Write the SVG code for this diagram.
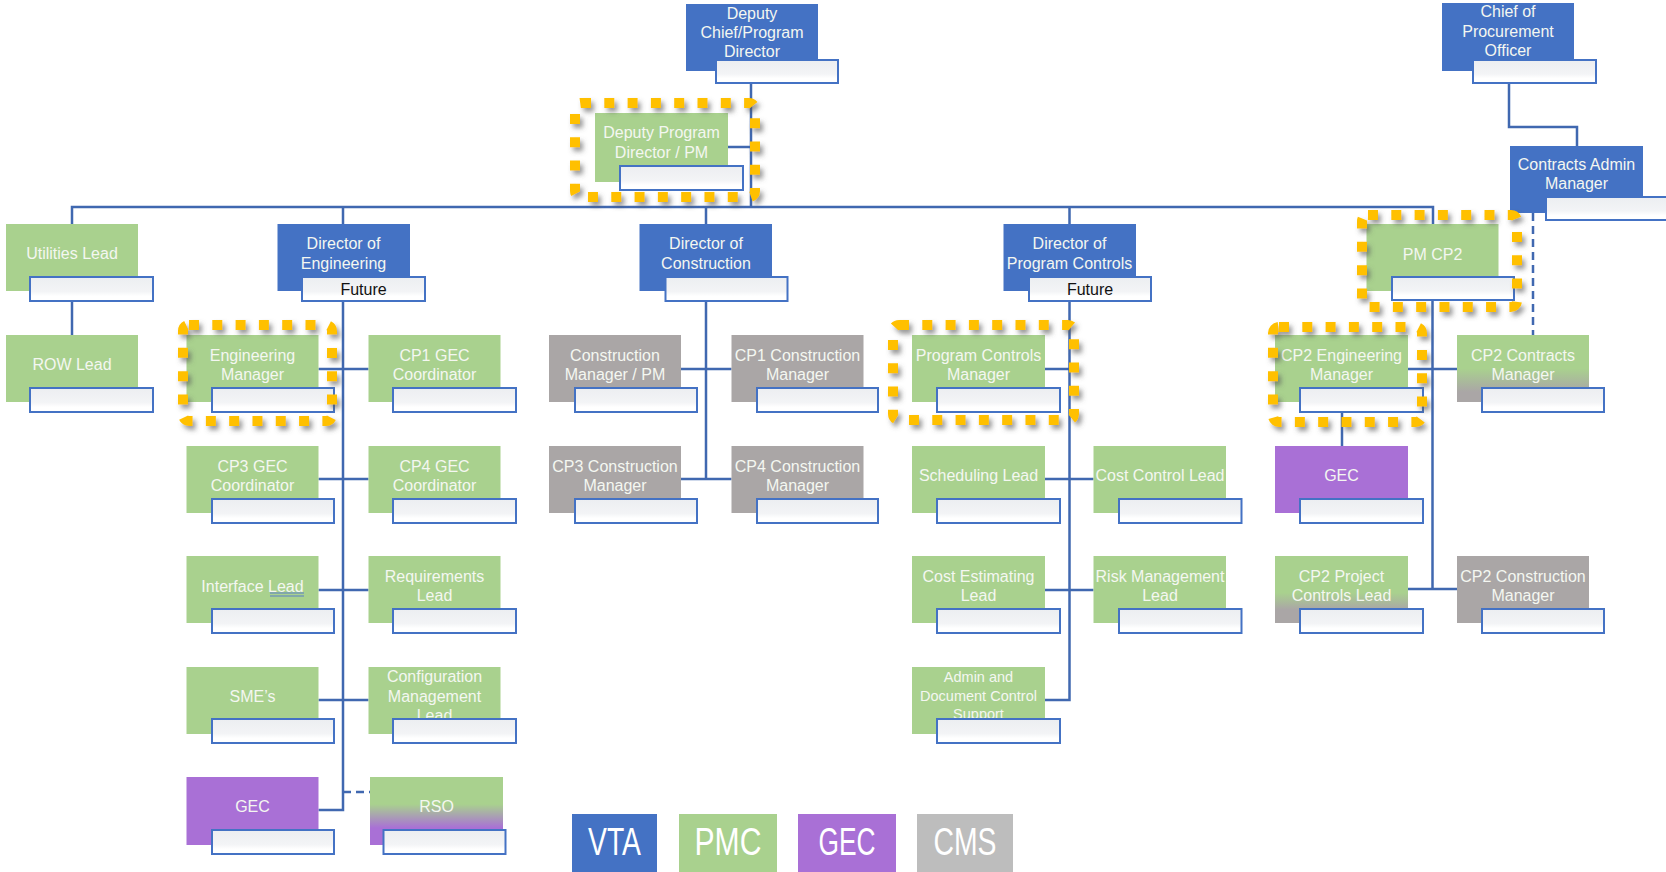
<svg xmlns="http://www.w3.org/2000/svg" width="1666" height="872" viewBox="0 0 1666 872">
<style>
.v{fill:#4472C4}
.p{fill:#A9D18E}
.g{fill:#AAA6A6}
.u{fill:#A970D6}
.s{fill:url(#sb);stroke:#4472C4;stroke-width:2}
.t{font-family:"Liberation Sans",Arial,sans-serif;font-size:16px;fill:#F4F7F1;text-anchor:middle}
.sm{font-size:14.5px}
.f{fill:#111111}
.ln{stroke:#4068B0;stroke-width:2.5;fill:none}
.dl{stroke:#4068B0;stroke-width:2.5;fill:none;stroke-dasharray:8 5}
.hl{fill:none;stroke:#FFC000;stroke-width:10;stroke-dasharray:10 13.3;filter:url(#sh)}
.lg{font-family:"Liberation Sans",Arial,sans-serif;font-size:38px;fill:#FFFFFF;text-anchor:middle}
</style>
<defs>
<linearGradient id="sb" x1="0" y1="0" x2="0" y2="1">
<stop offset="0" stop-color="#ECEEF1"/><stop offset="0.6" stop-color="#F3F4F6"/><stop offset="0.8" stop-color="#FFFFFF"/>
</linearGradient>
<linearGradient id="pg" x1="0" y1="0" x2="0" y2="1">
<stop offset="0" stop-color="#A9D18E"/><stop offset="0.5" stop-color="#A9D18E"/><stop offset="0.85" stop-color="#AAA6A6"/>
</linearGradient>
<linearGradient id="pg2" x1="0" y1="0" x2="0" y2="1">
<stop offset="0" stop-color="#A9D18E"/><stop offset="0.55" stop-color="#A9D18E"/><stop offset="0.8" stop-color="#AAA6A6"/>
</linearGradient>
<linearGradient id="pu" x1="0" y1="0" x2="0" y2="1">
<stop offset="0" stop-color="#A9D18E"/><stop offset="0.4" stop-color="#A9D18E"/><stop offset="0.75" stop-color="#A970D6"/>
</linearGradient>
<filter id="sh" x="-10%" y="-10%" width="125%" height="130%">
<feDropShadow dx="3" dy="4" stdDeviation="2.5" flood-color="#555555" flood-opacity="0.6"/>
</filter>
</defs>
<rect width="1666" height="872" fill="#FFFFFF"/>

<g id="connectors">
<path class="ln" d="M751 83V207M728 147H751"/>
<path class="ln" d="M72 224V207H1433V224"/>
<path class="ln" d="M343 207V224M706 207V224M1069.5 207V224"/>
<path class="ln" d="M1509 83V127H1577V146"/>
<path class="dl" d="M1533 213V335"/>
<path class="ln" d="M72 301V335"/>
<path class="ln" d="M343 301V810H318.5M318.5 369H368.5M318.5 479H368.5M318.5 590H368.5M318.5 700H368.5"/>
<path class="dl" d="M343 792H370"/>
<path class="ln" d="M706 301V479M681 369H731.5M681 479H731.5"/>
<path class="ln" d="M1069.5 301V700H1044M1044 369H1069.5M1044 479H1093.5M1044 590H1093.5"/>
<path class="ln" d="M1432.5 300V589M1407 369H1457M1407 589H1457"/>
<path class="ln" d="M1342 412V446"/>
</g>

<g id="deputy-chief">
<rect class="v" x="686" y="4" width="132" height="67"/>
<text class="t" x="752" y="18.5">Deputy</text><text class="t" x="752" y="37.5">Chief/Program</text><text class="t" x="752" y="56.5">Director</text>
<rect class="s" x="716" y="60" width="122" height="23"/>
</g>
<g id="chief-procurement">
<rect class="v" x="1442" y="3" width="132" height="68"/>
<text class="t" x="1508" y="17">Chief of</text><text class="t" x="1508" y="36.5">Procurement</text><text class="t" x="1508" y="55.5">Officer</text>
<rect class="s" x="1473" y="60" width="123" height="23"/>
</g>
<g id="contracts-admin">
<rect class="v" x="1510" y="146" width="133" height="67"/>
<text class="t" x="1576.5" y="170">Contracts Admin</text><text class="t" x="1576.5" y="189">Manager</text>
<rect class="s" x="1546" y="197" width="122" height="23"/>
</g>
<g id="deputy-pd">
<rect class="p" x="595" y="113" width="133" height="69"/>
<text class="t" x="661.5" y="138">Deputy Program</text><text class="t" x="661.5" y="158">Director / PM</text>
<rect class="s" x="620" y="166" width="123" height="24"/>
</g>

<g id="utilities-lead">
<rect class="p" x="6" y="224" width="132" height="67"/>
<text class="t" x="72" y="259">Utilities Lead</text>
<rect class="s" x="30" y="277" width="123" height="24"/>
</g>
<g id="dir-eng">
<rect class="v" x="277.5" y="224" width="132.5" height="67"/>
<text class="t" x="343.5" y="249">Director of</text><text class="t" x="343.5" y="268.5">Engineering</text>
<rect class="s" x="302" y="277" width="123" height="24"/>
<text class="t f" x="363.5" y="295">Future</text>
</g>
<g id="dir-con">
<rect class="v" x="639.5" y="224" width="132.5" height="67"/>
<text class="t" x="706" y="249">Director of</text><text class="t" x="706" y="268.5">Construction</text>
<rect class="s" x="665.5" y="277" width="122" height="24"/>
</g>
<g id="dir-pc">
<rect class="v" x="1003.5" y="224" width="132.5" height="67"/>
<text class="t" x="1069.5" y="249">Director of</text><text class="t" x="1069.5" y="268.5">Program Controls</text>
<rect class="s" x="1029" y="277" width="122" height="24"/>
<text class="t f" x="1090" y="295">Future</text>
</g>
<g id="pm-cp2">
<rect class="p" x="1366.5" y="224" width="132" height="67"/>
<text class="t" x="1432.5" y="260">PM CP2</text>
<rect class="s" x="1392" y="277" width="122" height="23"/>
</g>

<g id="row-lead">
<rect class="p" x="6" y="335" width="132" height="67"/>
<text class="t" x="72" y="370">ROW Lead</text>
<rect class="s" x="30" y="388" width="123" height="24"/>
</g>
<g id="eng-manager">
<rect class="p" x="186.5" y="335" width="132" height="67"/>
<text class="t" x="252.5" y="360.5">Engineering</text><text class="t" x="252.5" y="380">Manager</text>
<rect class="s" x="212" y="388" width="122" height="24"/>
</g>
<g id="cp1-gec">
<rect class="p" x="368.5" y="335" width="132" height="67"/>
<text class="t" x="434.5" y="360.5">CP1 GEC</text><text class="t" x="434.5" y="380">Coordinator</text>
<rect class="s" x="393" y="388" width="123" height="24"/>
</g>
<g id="con-manager">
<rect class="g" x="549" y="335" width="132" height="67"/>
<text class="t" x="615" y="360.5">Construction</text><text class="t" x="615" y="380">Manager / PM</text>
<rect class="s" x="575" y="388" width="122" height="24"/>
</g>
<g id="cp1-con">
<rect class="g" x="731.5" y="335" width="132" height="67"/>
<text class="t" x="797.5" y="360.5">CP1 Construction</text><text class="t" x="797.5" y="380">Manager</text>
<rect class="s" x="757" y="388" width="121" height="24"/>
</g>
<g id="pc-manager">
<rect class="p" x="912" y="335" width="133" height="67"/>
<text class="t" x="978.5" y="360.5">Program Controls</text><text class="t" x="978.5" y="380">Manager</text>
<rect class="s" x="937" y="388" width="123" height="24"/>
</g>
<g id="cp2-eng">
<rect class="p" x="1275" y="335" width="133" height="67"/>
<text class="t" x="1341.5" y="360.5">CP2 Engineering</text><text class="t" x="1341.5" y="380">Manager</text>
<rect class="s" x="1300" y="388" width="123" height="24"/>
</g>
<g id="cp2-contracts">
<rect x="1457" y="335" width="132" height="67" fill="url(#pg)"/>
<text class="t" x="1523" y="360.5">CP2 Contracts</text><text class="t" x="1523" y="380">Manager</text>
<rect class="s" x="1482" y="388" width="122" height="24"/>
</g>

<g id="cp3-gec">
<rect class="p" x="186.5" y="446" width="132" height="67"/>
<text class="t" x="252.5" y="471.5">CP3 GEC</text><text class="t" x="252.5" y="491">Coordinator</text>
<rect class="s" x="212" y="499" width="122" height="24"/>
</g>
<g id="cp4-gec">
<rect class="p" x="368.5" y="446" width="132" height="67"/>
<text class="t" x="434.5" y="471.5">CP4 GEC</text><text class="t" x="434.5" y="491">Coordinator</text>
<rect class="s" x="393" y="499" width="123" height="24"/>
</g>
<g id="cp3-con">
<rect class="g" x="549" y="446" width="132" height="67"/>
<text class="t" x="615" y="471.5">CP3 Construction</text><text class="t" x="615" y="491">Manager</text>
<rect class="s" x="575" y="499" width="122" height="24"/>
</g>
<g id="cp4-con">
<rect class="g" x="731.5" y="446" width="132" height="67"/>
<text class="t" x="797.5" y="471.5">CP4 Construction</text><text class="t" x="797.5" y="491">Manager</text>
<rect class="s" x="757" y="499" width="121" height="24"/>
</g>
<g id="scheduling">
<rect class="p" x="912" y="446" width="133" height="67"/>
<text class="t" x="978.5" y="481">Scheduling Lead</text>
<rect class="s" x="937" y="499" width="123" height="24"/>
</g>
<g id="cost-control">
<rect class="p" x="1093.5" y="446" width="132.5" height="67"/>
<text class="t" x="1160" y="481">Cost Control Lead</text>
<rect class="s" x="1119" y="499" width="122.5" height="24"/>
</g>
<g id="cp2-gec">
<rect class="u" x="1275" y="446" width="133" height="67"/>
<text class="t" x="1341.5" y="481">GEC</text>
<rect class="s" x="1300" y="499" width="123" height="24"/>
</g>

<g id="interface-lead">
<rect class="p" x="186.5" y="556" width="132" height="67"/>
<text class="t" x="252.5" y="591.5">Interface Lead</text>
<path d="M270 593H304M270 596H304" stroke="#5B7FC7" stroke-width="1.2" fill="none"/>
<rect class="s" x="212" y="609" width="122" height="24"/>
</g>
<g id="requirements-lead">
<rect class="p" x="368.5" y="556" width="132" height="67"/>
<text class="t" x="434.5" y="581.5">Requirements</text><text class="t" x="434.5" y="601">Lead</text>
<rect class="s" x="393" y="609" width="123" height="24"/>
</g>
<g id="cost-estimating">
<rect class="p" x="912" y="556" width="133" height="67"/>
<text class="t" x="978.5" y="581.5">Cost Estimating</text><text class="t" x="978.5" y="601">Lead</text>
<rect class="s" x="937" y="609" width="123" height="24"/>
</g>
<g id="risk-management">
<rect class="p" x="1093.5" y="556" width="132.5" height="67"/>
<text class="t" x="1160" y="581.5">Risk Management</text><text class="t" x="1160" y="601">Lead</text>
<rect class="s" x="1119" y="609" width="122.5" height="24"/>
</g>
<g id="cp2-pcl">
<rect x="1275" y="556" width="133" height="67" fill="url(#pg2)"/>
<text class="t" x="1341.5" y="581.5">CP2 Project</text><text class="t" x="1341.5" y="601">Controls Lead</text>
<rect class="s" x="1300" y="609" width="123" height="24"/>
</g>
<g id="cp2-con">
<rect class="g" x="1457" y="556" width="132" height="67"/>
<text class="t" x="1523" y="581.5">CP2 Construction</text><text class="t" x="1523" y="601">Manager</text>
<rect class="s" x="1482" y="609" width="122" height="24"/>
</g>

<g id="smes">
<rect class="p" x="186.5" y="667" width="132" height="67"/>
<text class="t" x="252.5" y="702">SME’s</text>
<rect class="s" x="212" y="719" width="122" height="24"/>
</g>
<g id="config-mgmt">
<rect class="p" x="368.5" y="667" width="132" height="67"/>
<text class="t" x="434.5" y="682">Configuration</text><text class="t" x="434.5" y="701.5">Management</text><text class="t" x="434.5" y="721">Lead</text>
<rect class="s" x="393" y="719" width="123" height="24"/>
</g>
<g id="admin-doc">
<rect class="p" x="912" y="667" width="133" height="67"/>
<text class="t sm" x="978.5" y="682">Admin and</text><text class="t sm" x="978.5" y="700.5">Document Control</text><text class="t sm" x="978.5" y="718.5">Support</text>
<rect class="s" x="937" y="719" width="123" height="24"/>
</g>

<g id="eng-gec">
<rect class="u" x="186.5" y="777" width="132" height="68"/>
<text class="t" x="252.5" y="812">GEC</text>
<rect class="s" x="212" y="830" width="122" height="24"/>
</g>
<g id="rso">
<rect x="370" y="777" width="133" height="68" fill="url(#pu)"/>
<text class="t" x="436.5" y="812">RSO</text>
<rect class="s" x="383.5" y="830" width="122" height="24"/>
</g>

<g id="highlights">
<rect class="hl" x="575" y="103" width="180" height="94" rx="6"/>
<rect class="hl" x="183" y="325" width="149" height="96" rx="6"/>
<rect class="hl" x="893" y="325" width="181" height="95" rx="6"/>
<rect class="hl" x="1362" y="215" width="155" height="92" rx="6"/>
<rect class="hl" x="1273" y="327" width="149" height="95" rx="6"/>
</g>

<g id="legend">
<rect class="v" x="572" y="814" width="85" height="58"/>
<text class="lg" x="614.5" y="855" textLength="53" lengthAdjust="spacingAndGlyphs">VTA</text>
<rect class="p" x="679" y="814" width="98" height="58"/>
<text class="lg" x="728" y="855" textLength="67" lengthAdjust="spacingAndGlyphs">PMC</text>
<rect class="u" x="798" y="814" width="98" height="58"/>
<text class="lg" x="847" y="855" textLength="57" lengthAdjust="spacingAndGlyphs">GEC</text>
<rect x="917" y="814" width="96" height="58" fill="#BDBDBD"/>
<text class="lg" x="965" y="855" textLength="63" lengthAdjust="spacingAndGlyphs">CMS</text>
</g>
</svg>
